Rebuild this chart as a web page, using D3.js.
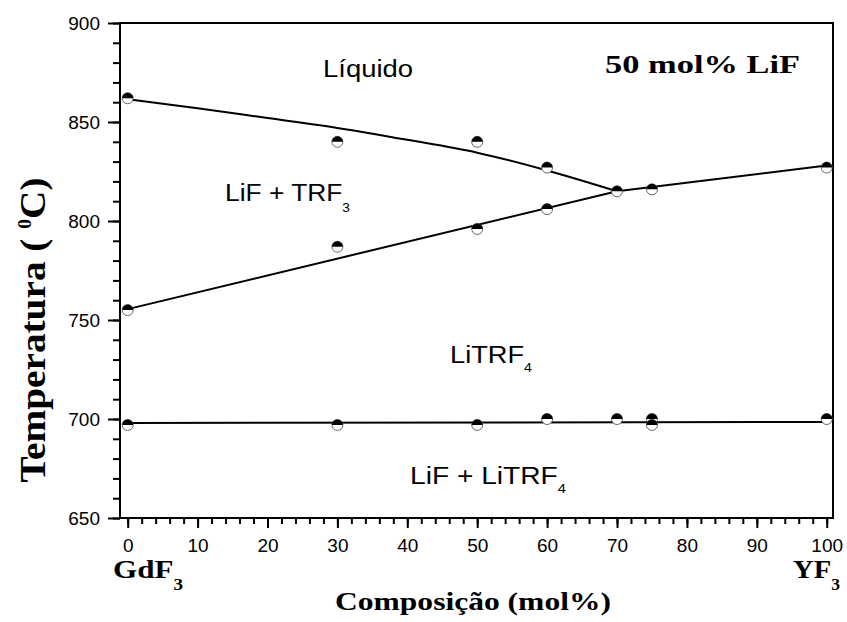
<!DOCTYPE html>
<html>
<head>
<meta charset="utf-8">
<script src="https://cdn.jsdelivr.net/npm/d3@7"></script>
<style>
  body { margin: 0; background: #fff; }
  svg { display: block; }
</style>
</head>
<body>
<div id="chart"></div>
<script>
// measured points (composition mol% YF3, temperature °C)
const liquidusComp = [0, 30, 50, 60, 70, 75, 100];
const liquidusTemp = [862, 840, 840, 827, 815, 816, 827];
const solidusComp = [0, 30, 50, 60];
const solidusTemp = [755, 787, 796, 806];
const eutecticComp = [0, 30, 50, 60, 70, 75, 75, 100];
const eutecticTemp = [697, 697, 697, 700, 700, 700, 697, 700];

// fitted lines
const liqCurveComp = [0, 10, 20, 30, 40, 50, 60, 70];
const liqCurveTemp = [861.5, 857, 852, 847, 841, 834.5, 825.5, 815];
const solLineComp = [0, 70];
const solLineTemp = [755.5, 815];
const rightLineComp = [70, 100];
const rightLineTemp = [815, 828];
const eutLineComp = [0, 100];
const eutLineTemp = [698, 698.5];

const xTicks = [0, 10, 20, 30, 40, 50, 60, 70, 80, 90, 100];
const yTicks = [650, 700, 750, 800, 850, 900];

const width = 847;
const height = 622;
const sans = 'Arial, "Liberation Sans", sans-serif';
const serif = '"Times New Roman", "Liberation Serif", serif';

const svg = d3
  .select('#chart')
  .append('svg')
  .attr('width', width)
  .attr('height', height);

const x = d3.scaleLinear().domain([-1.1, 100.9]).range([120, 833]);
const y = d3.scaleLinear().domain([650, 900]).range([518, 23]);

// minor ticks
svg
  .append('g')
  .attr('transform', `translate(0,${y(650)})`)
  .call(d3.axisBottom(x).tickValues(d3.range(0, 101, 2)).tickSize(6).tickFormat(''))
  .call((g) => g.select('.domain').remove());

svg
  .append('g')
  .attr('transform', `translate(${x(-1.1)},0)`)
  .call(d3.axisLeft(y).tickValues(d3.range(650, 901, 10)).tickSize(7).tickFormat(''))
  .call((g) => g.select('.domain').remove());

// major ticks
svg
  .append('g')
  .attr('transform', `translate(0,${y(650)})`)
  .call(d3.axisBottom(x).tickValues(xTicks).tickSize(10).tickPadding(11))
  .call((g) => g.select('.domain').remove());

svg
  .append('g')
  .attr('transform', `translate(${x(-1.1)},0)`)
  .call(d3.axisLeft(y).tickValues(yTicks).tickSize(12).tickPadding(8))
  .call((g) => g.select('.domain').remove());

svg.selectAll('.tick line').attr('stroke', '#000').attr('stroke-width', 2);
svg
  .selectAll('.tick text')
  .attr('fill', '#000')
  .style('font-family', sans)
  .style('font-size', '19px');

// frame
svg
  .append('rect')
  .attr('x', x(-1.1))
  .attr('y', y(900))
  .attr('width', x(100.9) - x(-1.1))
  .attr('height', y(650) - y(900))
  .attr('fill', 'none')
  .attr('stroke', '#000')
  .attr('stroke-width', 2);

// lines
const line = d3
  .line()
  .x((d) => x(d[0]))
  .y((d) => y(d[1]));

const lines = [
  { pts: d3.zip(liqCurveComp, liqCurveTemp), curve: d3.curveMonotoneX },
  { pts: d3.zip(solLineComp, solLineTemp), curve: d3.curveLinear },
  { pts: d3.zip(rightLineComp, rightLineTemp), curve: d3.curveLinear },
  { pts: d3.zip(eutLineComp, eutLineTemp), curve: d3.curveLinear },
];

svg
  .selectAll('.fit')
  .data(lines)
  .enter()
  .append('path')
  .attr('class', 'fit')
  .attr('d', (d) => line.curve(d.curve)(d.pts))
  .attr('fill', 'none')
  .attr('stroke', '#000')
  .attr('stroke-width', 2);

// half filled markers
const points = [
  ...d3.zip(liquidusComp, liquidusTemp),
  ...d3.zip(solidusComp, solidusTemp),
  ...d3.zip(eutecticComp, eutecticTemp),
];
const r = 5.5;
const topHalf = d3
  .arc()
  .innerRadius(0)
  .outerRadius(r)
  .startAngle(-Math.PI / 2)
  .endAngle(Math.PI / 2);

const marker = svg
  .selectAll('.point')
  .data(points)
  .enter()
  .append('g')
  .attr('class', 'point')
  .attr('transform', (d) => `translate(${x(d[0])},${y(d[1])})`);

marker
  .append('circle')
  .attr('r', r)
  .attr('fill', '#fff')
  .attr('stroke', '#444')
  .attr('stroke-width', 0.8);

marker.append('path').attr('d', topHalf()).attr('fill', '#000');

// labels
function label(parts, px, py, font, size, weight, len, subSize, subDy) {
  const t = svg
    .append('text')
    .attr('x', px)
    .attr('y', py)
    .attr('fill', '#000')
    .style('font-family', font)
    .style('font-size', `${size}px`)
    .style('font-weight', weight)
    .attr('textLength', len)
    .attr('lengthAdjust', 'spacingAndGlyphs');
  t.append('tspan').text(parts[0]);
  if (parts[1]) {
    t.append('tspan')
      .attr('dy', subDy)
      .style('font-size', `${subSize}px`)
      .text(parts[1]);
  }
  return t;
}

label(['50 mol% LiF'], 605, 73, serif, 26, 'bold', 195);
label(['Líquido'], 323, 77, sans, 23, 'normal', 90);
label(['LiF + TRF', '3'], 225, 201, sans, 23, 'normal', 125, 12, 11);
label(['LiTRF', '4'], 450, 363, sans, 23, 'normal', 82, 12, 9);
label(['LiF + LiTRF', '4'], 410, 484, sans, 23, 'normal', 156, 12, 9);
label(['GdF', '3'], 113, 578, serif, 26, 'bold', 70, 16, 12);
label(['YF', '3'], 793, 578, serif, 26, 'bold', 47, 16, 12);
label(['Composição (mol%)'], 335, 610, serif, 26, 'bold', 276);

// y title with superscript
const yTitle = svg
  .append('text')
  .attr('transform', 'translate(45,330) rotate(-90)')
  .attr('text-anchor', 'middle')
  .attr('fill', '#000')
  .style('font-family', serif)
  .style('font-size', '36px')
  .style('font-weight', 'bold')
  .attr('textLength', 305)
  .attr('lengthAdjust', 'spacingAndGlyphs');
yTitle.append('tspan').text('Temperatura ( ');
yTitle.append('tspan').attr('dy', -14).style('font-size', '18px').text('0');
yTitle.append('tspan').attr('dy', 14).text('C)');
</script>
</body>
</html>
